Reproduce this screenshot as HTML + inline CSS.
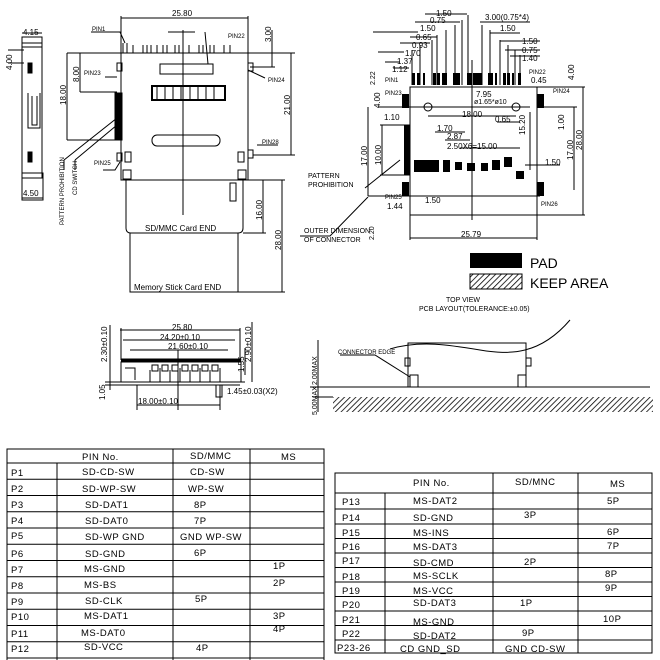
<!DOCTYPE html>
<html><head><meta charset="utf-8"><style>
html,body{margin:0;padding:0;background:#fff;}
svg{display:block;}
text{font-family:"Liberation Sans",sans-serif;fill:#000;}
.s{font-size:8px;}
.t{font-size:9.5px;letter-spacing:0.5px;}
</style></head><body>
<svg width="660" height="660" viewBox="0 0 660 660" xmlns="http://www.w3.org/2000/svg">
<defs>
<pattern id="h" width="4" height="4" patternUnits="userSpaceOnUse" patternTransform="rotate(45)">
<rect width="4" height="4" fill="#fff"/><line x1="0" y1="0" x2="0" y2="4" stroke="#000" stroke-width="1.6"/></pattern>
</defs>
<g stroke="#000" stroke-width="1" fill="none">
<!-- side view left -->
<rect x="22" y="43" width="20" height="135"/>
<rect x="22" y="37" width="20" height="10"/>
<rect x="22" y="173" width="21" height="27"/>
<rect x="28" y="63" width="4" height="10" fill="#000"/>
<rect x="28" y="152" width="4" height="10" fill="#000"/>
<path d="M28 93 V128 H40 V93 M32 96 V125 H37 V96"/>
<line x1="22" y1="33" x2="42" y2="33"/><line x1="22" y1="198" x2="43" y2="198"/>
<line x1="8" y1="50" x2="24" y2="50"/><line x1="8" y1="63" x2="24" y2="63"/>
<!-- main top view -->
<rect x="121" y="53" width="127" height="127"/>
<line x1="121" y1="16" x2="121" y2="53"/><line x1="248" y1="16" x2="248" y2="53"/>
<line x1="121" y1="18" x2="248" y2="18"/>
<path d="M123 43 V53 M127 43 V53 M133 45 V53 M143 45 V53 M147 45 V53 M151 45 V53 M157 45 V53 M163 45 V53 M167 45 V53 M175 45 V53 M179 45 V53 M183 45 V53 M189 45 V53 M199 45 V53 M203 45 V53 M210 45 V53 M214 45 V53 M224 45 V53 M230 45 V53"/>
<rect x="160" y="64" width="53" height="10"/>
<rect x="152" y="86" width="73" height="14" stroke-width="2"/>
<path d="M157 86 V100 M165 86 V100 M173 86 V100 M181 86 V100 M190 86 V100 M198 86 V100 M206 86 V100 M214 86 V100"/>
<rect x="152" y="135" width="68" height="11" rx="5"/>
<line x1="183" y1="30" x2="183" y2="215"/>
<rect x="115" y="93" width="7" height="47" fill="#000"/>
<rect x="117" y="63" width="5" height="8"/><rect x="248" y="63" width="5" height="8"/>
<rect x="117" y="153" width="5" height="8"/><rect x="248" y="150" width="5" height="8"/>
<rect x="125" y="152" width="6" height="10"/><rect x="238" y="152" width="6" height="10"/>
<rect x="123" y="170" width="8" height="9"/><rect x="238" y="170" width="8" height="9"/>
<path d="M126 180 V228 Q126 233 131 233 H238 Q243 233 243 228 V180"/>
<rect x="130" y="233" width="108" height="59"/>
<rect x="230" y="183" width="6" height="18"/>
<!-- dims -->
<line x1="67" y1="53" x2="67" y2="140"/><line x1="67" y1="53" x2="121" y2="53"/><line x1="67" y1="140" x2="115" y2="140"/>
<line x1="80" y1="53" x2="80" y2="92"/><line x1="80" y1="92" x2="117" y2="92"/>
<line x1="248" y1="53" x2="295" y2="53"/><line x1="291" y1="53" x2="291" y2="155"/><line x1="253" y1="155" x2="295" y2="155"/>
<line x1="272" y1="30" x2="272" y2="67"/><line x1="250" y1="67" x2="275" y2="67"/>
<line x1="243" y1="180" x2="285" y2="180"/><line x1="263" y1="180" x2="263" y2="233"/><line x1="243" y1="233" x2="266" y2="233"/>
<line x1="282" y1="180" x2="282" y2="292"/><line x1="238" y1="292" x2="285" y2="292"/>
<path d="M91 32 H120 L125 43 M105 77 H117 M103 170 H115 L120 162 M248 70 L265 78 M257 145 H278 M205 32 L208 64 M168 32 H195"/>
<path d="M64 160 L117 118 M75 160 L117 125 M64 160 V170 M75 160 V170"/>
<!-- top right PCB -->
<rect x="410" y="87" width="127" height="128"/>
<line x1="472" y1="60" x2="472" y2="220"/>
<line x1="378" y1="107" x2="530" y2="107"/>
<circle cx="428" cy="107" r="4"/><circle cx="516" cy="107" r="4"/>
<line x1="368" y1="107" x2="368" y2="196"/><line x1="368" y1="196" x2="540" y2="196"/>
<line x1="382" y1="125" x2="382" y2="175"/><line x1="380" y1="125" x2="410" y2="125"/><line x1="380" y1="175" x2="410" y2="175"/>
<line x1="537" y1="87" x2="585" y2="87"/><line x1="583" y1="87" x2="583" y2="215"/><line x1="537" y1="215" x2="585" y2="215"/>
<line x1="574" y1="107" x2="574" y2="190"/><line x1="544" y1="107" x2="577" y2="107"/>
<line x1="410" y1="215" x2="410" y2="240"/><line x1="537" y1="215" x2="537" y2="240"/><line x1="410" y1="238" x2="537" y2="238"/>
<line x1="428" y1="116" x2="516" y2="116"/>
<line x1="530" y1="112" x2="530" y2="170"/><line x1="497" y1="122" x2="520" y2="122"/>
<path d="M412 50 V85 M420 45 V85 M432 40 V85 M437 35 V85 M446 30 V85 M455 25 V85 M462 20 V85 M468 15 V85 M482 25 V85 M490 30 V85 M500 40 V85 M508 45 V85 M515 50 V85 M520 55 V85"/>
<path d="M373 32 H418 M378 52 H404 M385 62 H400 M393 68 H409 M400 43 H430 M410 37 H437 M415 22 H460 M425 14 H467 M480 22 H530 M490 33 H520 M500 41 H540 M505 50 H540 M510 56 H540"/>
<path d="M435 132 H465 M445 140 H470 M460 148 H520 M525 165 H560"/>
<path d="M368 197 L330 236 H300 M400 160 L365 188"/>
</g>
<g fill="#000">
<rect x="412" y="73" width="3" height="12"/><rect x="417" y="73" width="3" height="12"/><rect x="423" y="73" width="2" height="12"/>
<rect x="433" y="73" width="3" height="12"/><rect x="437" y="73" width="3" height="12"/><rect x="442" y="73" width="5" height="12"/>
<rect x="453" y="73" width="7" height="12"/><rect x="467" y="73" width="5" height="12"/><rect x="473" y="73" width="9" height="12"/>
<rect x="488" y="73" width="5" height="12"/><rect x="495" y="73" width="2" height="12"/><rect x="503" y="73" width="3" height="12"/>
<rect x="507" y="73" width="3" height="12"/><rect x="512" y="73" width="2" height="12"/><rect x="518" y="73" width="3" height="12"/>
<rect x="402" y="94" width="7" height="14"/><rect x="537" y="94" width="7" height="14"/>
<rect x="402" y="182" width="7" height="14"/><rect x="537" y="182" width="7" height="14"/>
<rect x="404" y="125" width="6" height="50"/>
<rect x="414" y="160" width="25" height="12"/><rect x="443" y="160" width="7" height="12"/>
<rect x="455" y="162" width="7" height="8"/><rect x="467" y="163" width="8" height="8"/>
<rect x="481" y="163" width="7" height="8"/><rect x="492" y="160" width="8" height="10"/>
<rect x="504" y="157" width="8" height="10"/><rect x="516" y="171" width="8" height="8"/>
<rect x="470" y="253" width="52" height="15"/>
</g>
<rect x="470" y="274" width="52" height="15" fill="url(#h)" stroke="#000"/>
<!-- bottom front view -->
<g stroke="#000" fill="none">
<rect x="121" y="362" width="120" height="20"/>
<line x1="121" y1="360" x2="241" y2="360" stroke-width="3"/>
<path d="M125 368 H135 V380 M150 370 V382 M160 368 V382 M170 370 V382 M180 368 V382 M190 370 V382 M200 368 V382 M210 370 V382 M220 368 V382"/>
<path d="M152 365 h6 v6 h-6z M162 365 h6 v6 h-6z M172 365 h6 v6 h-6z M182 365 h6 v6 h-6z M192 365 h6 v6 h-6z M202 365 h6 v6 h-6z M212 365 h6 v6 h-6z"/>
<line x1="105" y1="382" x2="245" y2="382"/><line x1="105" y1="385" x2="240" y2="385"/>
<line x1="120" y1="330" x2="240" y2="330"/><line x1="121" y1="328" x2="121" y2="360"/><line x1="240" y1="328" x2="240" y2="360"/>
<line x1="123" y1="340" x2="235" y2="340"/><line x1="130" y1="350" x2="228" y2="350"/>
<line x1="178" y1="350" x2="178" y2="410"/>
<line x1="137" y1="405" x2="220" y2="405"/><line x1="137" y1="385" x2="137" y2="410"/><line x1="220" y1="385" x2="220" y2="410"/>
<rect x="216" y="385" width="6" height="12"/>
<line x1="252" y1="322" x2="252" y2="382"/><line x1="245" y1="348" x2="245" y2="375"/>
<line x1="110" y1="325" x2="110" y2="390"/>
<!-- side right -->
<line x1="310" y1="387" x2="650" y2="387"/>
<line x1="318" y1="340" x2="318" y2="412"/>
<rect x="408" y="343" width="118" height="44"/>
<rect x="405" y="358" width="5" height="8"/><rect x="526" y="358" width="5" height="8"/>
<rect x="410" y="375" width="8" height="12"/><rect x="518" y="375" width="8" height="12"/>
<path d="M390 349 C420 340, 450 345, 480 350 S540 355, 570 320"/>
<path d="M340 355 H375 L410 377"/>
</g>
<rect x="333" y="397" width="320" height="15" fill="url(#h)"/>
<line x1="315" y1="397" x2="333" y2="397" stroke="#000"/>
<!-- labels -->
<g class="s">
<text x="172" y="16">25.80</text><text x="23" y="35">4.15</text><text x="23" y="196">4.50</text>
<text transform="translate(12,70) rotate(-90)">4.00</text>
<text transform="translate(66,105) rotate(-90)">18.00</text>
<text transform="translate(79,82) rotate(-90)">8.00</text>
<text transform="translate(290,115) rotate(-90)">21.00</text>
<text transform="translate(271,42) rotate(-90)">3.00</text>
<text transform="translate(262,220) rotate(-90)">16.00</text>
<text transform="translate(281,250) rotate(-90)">28.00</text>
<text x="92" y="31" font-size="6">PIN1</text><text x="228" y="38" font-size="6">PIN22</text>
<text x="84" y="75" font-size="6">PIN23</text><text x="268" y="82" font-size="6">PIN24</text>
<text x="94" y="165" font-size="6">PIN25</text><text x="262" y="144" font-size="6">PIN28</text>
<text transform="translate(64,225) rotate(-90)" font-size="6">PATTERN PROHIBITION</text>
<text transform="translate(77,195) rotate(-90)" font-size="6">CD SWITCH</text>
<text x="145" y="231">SD/MMC Card END</text>
<text x="134" y="290">Memory Stick Card END</text>
<text x="436" y="16">1.50</text><text x="430" y="23">0.75</text><text x="485" y="20">3.00(0.75*4)</text>
<text x="420" y="31">1.50</text><text x="500" y="31">1.50</text><text x="416" y="40">0.65</text><text x="412" y="48">0.93</text>
<text x="522" y="44">1.50</text><text x="522" y="53">0.75</text><text x="522" y="61">1.40</text>
<text x="405" y="56">1.70</text><text x="397" y="64">1.37</text><text x="392" y="72">1.12</text>
<text x="385" y="82" font-size="6">PIN1</text><text x="529" y="74" font-size="6">PIN22</text><text x="531" y="83">0.45</text>
<text x="385" y="95" font-size="6">PIN23</text><text x="553" y="93" font-size="6">PIN24</text>
<text x="385" y="199" font-size="6">PIN25</text><text x="541" y="206" font-size="6">PIN26</text>
<text x="476" y="97">7.95</text><text x="474" y="104" font-size="7">ø1.65*ø10</text>
<text x="462" y="117">18.00</text><text x="495" y="122">0.65</text><text x="384" y="120">1.10</text>
<text x="437" y="131">1.70</text><text x="447" y="139">2.87</text><text x="447" y="149">2.50X6=15.00</text>
<text x="545" y="165">1.50</text><text x="387" y="209">1.44</text><text x="425" y="203">1.50</text><text x="461" y="237">25.79</text>
<text transform="translate(374,240) rotate(-90)" font-size="7">2.20</text>
<text transform="translate(375,85) rotate(-90)" font-size="7">2.22</text>
<text transform="translate(367,166) rotate(-90)">17.00</text>
<text transform="translate(381,165) rotate(-90)">10.00</text>
<text transform="translate(380,108) rotate(-90)">4.00</text>
<text transform="translate(525,135) rotate(-90)">15.20</text>
<text transform="translate(564,130) rotate(-90)">1.00</text>
<text transform="translate(573,160) rotate(-90)">17.00</text>
<text transform="translate(582,150) rotate(-90)">28.00</text>
<text transform="translate(574,80) rotate(-90)">4.00</text>
<text x="304" y="233" font-size="7">OUTER DIMENSION</text><text x="304" y="242" font-size="7">OF CONNECTOR</text>
<text x="308" y="178" font-size="7">PATTERN</text><text x="308" y="187" font-size="7">PROHIBITION</text>
<text x="530" y="268" font-size="14">PAD</text><text x="530" y="288" font-size="14">KEEP AREA</text>
<text x="446" y="302" font-size="7">TOP VIEW</text><text x="419" y="311" font-size="7">PCB LAYOUT(TOLERANCE:±0.05)</text>
<text x="172" y="330">25.80</text><text x="160" y="340">24.20±0.10</text><text x="168" y="349">21.60±0.10</text>
<text x="138" y="404">18.00±0.10</text><text x="227" y="394">1.45±0.03(X2)</text>
<text transform="translate(107,362) rotate(-90)">2.30±0.10</text><text transform="translate(251,362) rotate(-90)">2.90±0.10</text>
<text transform="translate(244,372) rotate(-90)">1.55</text><text transform="translate(105,400) rotate(-90)">1.05</text>
<text x="338" y="354" font-size="6">CONNECTOR EDGE</text>
<text transform="translate(317,385) rotate(-90)" font-size="7">2.00MAX</text>
<text transform="translate(317,415) rotate(-90)" font-size="7">5.00MAX</text>
</g>
<!-- Table 1 -->
<g stroke="#000" fill="none">
<rect x="7" y="449" width="317" height="215"/>
<line x1="57" y1="463" x2="57" y2="664"/><line x1="173" y1="449" x2="173" y2="664"/><line x1="250" y1="449" x2="250" y2="664"/>
<path d="M7 463H324M7 479.3H324M7 495.5H324M7 511.8H324M7 528H324M7 544.3H324M7 560.5H324M7 576.8H324M7 593H324M7 609.3H324M7 625.5H324M7 641.8H324M7 658H324"/>
<!-- Table 2 -->
<rect x="335" y="473" width="317" height="180"/>
<line x1="385" y1="493" x2="385" y2="653"/><line x1="493" y1="473" x2="493" y2="653"/><line x1="578" y1="473" x2="578" y2="653"/>
<path d="M335 493H652M335 509H652M335 524H652M335 538.5H652M335 553H652M335 567.5H652M335 582H652M335 596.5H652M335 611H652M335 625.5H652M335 640H652"/>
</g>
<g class="t">
<text x="82" y="460">PIN No.</text><text x="190" y="459">SD/MMC</text><text x="281" y="460">MS</text>
<text x="11" y="476">P1</text><text x="82" y="475">SD-CD-SW</text><text x="190" y="475">CD-SW</text>
<text x="11" y="492">P2</text><text x="82" y="492">SD-WP-SW</text><text x="188" y="492">WP-SW</text>
<text x="11" y="508">P3</text><text x="85" y="508">SD-DAT1</text><text x="194" y="508">8P</text>
<text x="11" y="524">P4</text><text x="85" y="524">SD-DAT0</text><text x="194" y="524">7P</text>
<text x="11" y="539">P5</text><text x="85" y="540">SD-WP GND</text><text x="180" y="540">GND WP-SW</text>
<text x="11" y="557">P6</text><text x="85" y="557">SD-GND</text><text x="194" y="556">6P</text>
<text x="11" y="573">P7</text><text x="84" y="572">MS-GND</text><text x="273" y="569">1P</text>
<text x="11" y="589">P8</text><text x="84" y="588">MS-BS</text><text x="273" y="586">2P</text>
<text x="11" y="605">P9</text><text x="85" y="604">SD-CLK</text><text x="195" y="602">5P</text>
<text x="11" y="620">P10</text><text x="84" y="619">MS-DAT1</text><text x="273" y="619">3P</text>
<text x="11" y="637">P11</text><text x="81" y="636">MS-DAT0</text><text x="273" y="632">4P</text>
<text x="11" y="652">P12</text><text x="84" y="650">SD-VCC</text><text x="196" y="651">4P</text>
<text x="413" y="486">PIN No.</text><text x="515" y="485">SD/MNC</text><text x="610" y="487">MS</text>
<text x="342" y="505">P13</text><text x="413" y="504">MS-DAT2</text><text x="607" y="504">5P</text>
<text x="342" y="521">P14</text><text x="413" y="521">SD-GND</text><text x="524" y="518">3P</text>
<text x="342" y="536">P15</text><text x="413" y="536">MS-INS</text><text x="607" y="535">6P</text>
<text x="342" y="550">P16</text><text x="413" y="550">MS-DAT3</text><text x="607" y="549">7P</text>
<text x="342" y="564">P17</text><text x="413" y="566">SD-CMD</text><text x="524" y="565">2P</text>
<text x="342" y="580">P18</text><text x="413" y="579">MS-SCLK</text><text x="605" y="577">8P</text>
<text x="342" y="594">P19</text><text x="413" y="594">MS-VCC</text><text x="605" y="591">9P</text>
<text x="342" y="608">P20</text><text x="413" y="606">SD-DAT3</text><text x="520" y="606">1P</text>
<text x="342" y="623">P21</text><text x="413" y="625">MS-GND</text><text x="603" y="622">10P</text>
<text x="342" y="637">P22</text><text x="413" y="639">SD-DAT2</text><text x="522" y="636">9P</text>
<text x="337" y="651">P23-26</text><text x="400" y="652">CD GND_SD</text><text x="505" y="652">GND CD-SW</text>
</g>
</svg>
</body></html>
